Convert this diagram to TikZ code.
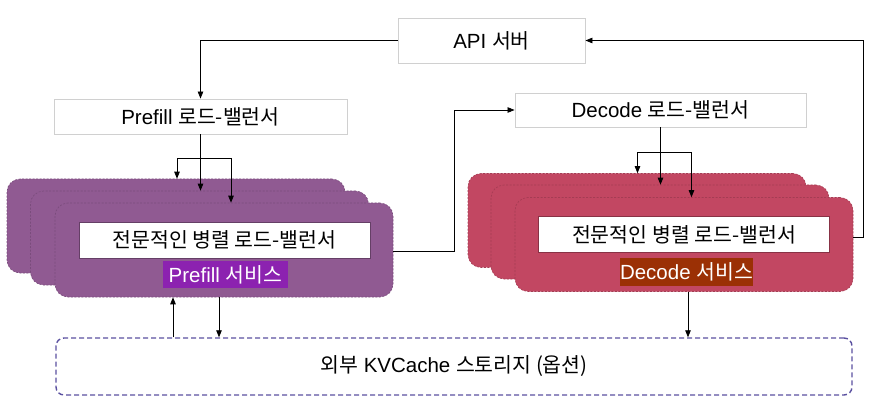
\documentclass[tikz,border=0pt]{standalone}
\usepackage{fontspec}
\setmainfont{Liberation Sans}
\newfontfamily\kr{Noto Sans CJK KR}
\usetikzlibrary{arrows.meta}
\definecolor{pfcol}{RGB}{144,90,146}
\definecolor{dccol}{RGB}{194,71,98}
\definecolor{pftagcol}{RGB}{140,34,176}
\definecolor{dctagcol}{RGB}{155,48,5}
\definecolor{storecol}{RGB}{90,80,160}
\definecolor{lbline}{RGB}{208,208,208}
\tikzset{
  arr/.style={-{Triangle[length=7pt,width=5.5pt]}, line width=0.8pt},
  lbbox/.style={draw=lbline, line width=0.9pt, fill=white, inner sep=0pt},
  card/.style={fill=#1, draw=#1!85!black, dash pattern=on 2pt off 1.5pt, line width=0.6pt,
    rounded corners=13pt, minimum width=338pt, minimum height=94pt, inner sep=0pt},
  innerbox/.style={fill=white, draw=#1, line width=0.9pt, minimum width=291pt, minimum height=36pt, inner sep=0pt},
  tagbox/.style={fill=#1, text=white, inner sep=0pt, minimum height=27pt}
}
\begin{document}
\begin{tikzpicture}[x=1pt,y=-1pt,font=\fontsize{20.5}{24}\selectfont]
\useasboundingbox (0,0) rectangle (873,414);

\node[lbbox, minimum width=187pt, minimum height=45pt] (api) at (491.5,40.5) {API {\kr 서버}};
\node[lbbox, minimum width=293pt, minimum height=35pt] (pflb) at (200.5,116.5) {Prefill {\kr 로드-밸런서}};
\node[lbbox, minimum width=291pt, minimum height=34pt] (dclb) at (660.5,110) {Decode {\kr 로드-밸런서}};

% prefill
\node[card=pfcol] (pfback) at (176,226) {};
\node[card=pfcol] (pfmid) at (199.5,238) {};
\node[card=pfcol] (pffront) at (224,250) {};
\node[innerbox=pfcol!70!black] (pfinner) at (224.5,240) {\kr 전문적인 병렬 로드-밸런서};
\node[tagbox=pftagcol, minimum width=125pt] (pftag) at (225.5,274.5) {Prefill {\kr 서비스}};

% decode
\node[card=dccol] (dcback) at (637,220.5) {};
\node[card=dccol] (dcmid) at (660,232) {};
\node[card=dccol] (dcfront) at (684,244.5) {};
\node[innerbox=dccol!70!black] (dcinner) at (684,234.5) {\kr 전문적인 병렬 로드-밸런서};
\node[tagbox=dctagcol, minimum width=131pt] (dctag) at (686.5,272) {Decode {\kr 서비스}};

\node[draw=storecol, dash pattern=on 5pt off 3pt, line width=1.4pt, rounded corners=8pt, minimum width=796pt, minimum height=57pt] (store) at (454,366.5) {{\kr 외부} KVCache {\kr 스토리지 (옵션)}};

\coordinate (pfsplit) at (200.5,158);
\coordinate (dcsplit) at (660.5,152);
\coordinate (turn) at (454,251);
\coordinate (back) at (863,237);

\draw[arr] (api.west) -| (pflb.north);
\draw[arr] (pflb.south) -- (pflb.south |- pfmid.north);
\draw[arr] (pfsplit) -- ++(-23.5,0) -- ([xshift=-23.5pt]pfsplit |- pfback.north);
\draw[arr] (pfsplit) -- ++(30.5,0) -- ([xshift=30.5pt]pfsplit |- pffront.north);
\draw[arr] (dclb.south) -- (dclb.south |- dcmid.north);
\draw[arr] (dcsplit) -- ++(-23,0) -- ([xshift=-23pt]dcsplit |- dcback.north);
\draw[arr] (dcsplit) -- ++(31,0) -- ([xshift=31pt]dcsplit |- dcfront.north);
\draw[arr] (pffront.east |- turn) -- (turn) |- (dclb.west);
\draw[arr] (dcfront.east |- back) -- (back) |- (api.east);
\draw[arr] (store.north -| 173,0) -- (pffront.south -| 173,0);
\draw[arr] (pffront.south -| 219,0) -- (store.north -| 219,0);
\draw[arr] (dcfront.south -| 688,0) -- (store.north -| 688,0);
\end{tikzpicture}
\end{document}
